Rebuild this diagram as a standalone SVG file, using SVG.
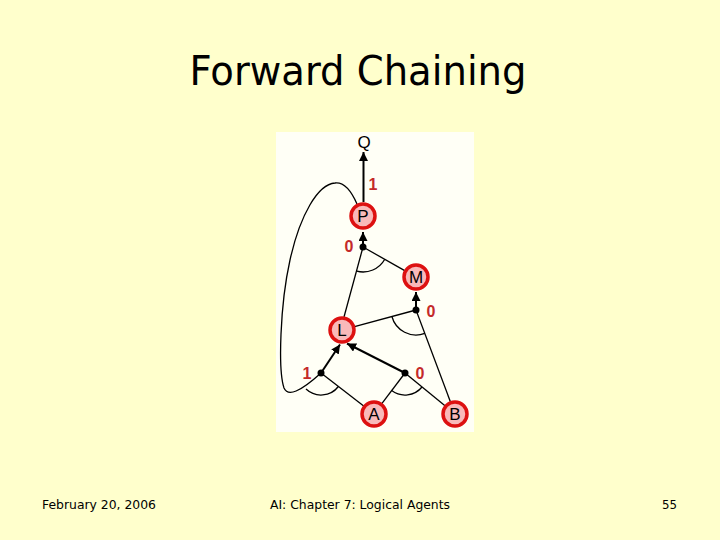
<svg xmlns="http://www.w3.org/2000/svg" width="720" height="540" viewBox="0 0 720 540">
<defs>
<style>
.node circle{fill:#F9B9B9;stroke:#DD1111;stroke-width:3.5}
.node text{font-family:"Liberation Sans",Arial,sans-serif;font-size:17px;fill:#000;text-anchor:middle}
.num{font-family:"Liberation Sans",Arial,sans-serif;font-size:16px;font-weight:bold;fill:#C42A2A;text-anchor:middle}
.edge{stroke:#000;stroke-width:1.3;fill:none}
.arw{stroke:#000;stroke-width:2;fill:none;marker-end:url(#ah)}
.dot{fill:#000}
.foot{font-family:Tahoma,"DejaVu Sans",sans-serif;font-size:13px;fill:#000}
</style>
<marker id="ah" viewBox="0 0 10 10" refX="10" refY="5" markerWidth="4.5" markerHeight="4.5" orient="auto" markerUnits="strokeWidth">
<path d="M0,0 L10,5 L0,10 z" fill="#000"/>
</marker>
</defs>
<rect width="720" height="540" fill="#FFFFCC"/>
<rect x="276" y="132" width="198" height="300" fill="#FFFFF6"/>
<text x="358" y="85" font-family="Tahoma,'DejaVu Sans',sans-serif" font-size="40" text-anchor="middle" textLength="337" lengthAdjust="spacingAndGlyphs" fill="#000">Forward Chaining</text>

<g id="connectors">
<line class="arw" x1="363.5" y1="202" x2="363.5" y2="152"/>
<line class="arw" x1="363" y1="247" x2="363" y2="232"/>
<line class="edge" x1="363" y1="247" x2="404.7" y2="270.6"/>
<line class="edge" x1="363" y1="247" x2="344" y2="317"/>
<path class="edge" d="M356.8,271.2 A25,25 0 0 0 384.8,259.3"/>
<line class="arw" x1="416" y1="310" x2="416" y2="292"/>
<line class="edge" x1="416" y1="310" x2="354.5" y2="326.6"/>
<line class="edge" x1="416" y1="310" x2="450.4" y2="401.8"/>
<path class="edge" d="M391.9,316.5 A25,25 0 0 0 424.8,333.4"/>
<line class="arw" x1="321" y1="373" x2="340" y2="344.5"/>
<line class="edge" x1="321" y1="373" x2="363.7" y2="406"/>
<path class="edge" d="M357,204 C350,188 343,182 335,183 C318,184 300,215 290,260 C280,305 278,370 284,388 C288,397 300,392 321,373"/>
<path class="edge" d="M306,389.1 A22,22 0 0 0 338.4,386.5"/>
<line class="arw" x1="405" y1="373" x2="347" y2="343.5"/>
<line class="edge" x1="405" y1="373" x2="381.8" y2="403.6"/>
<line class="edge" x1="405" y1="373" x2="445" y2="405.8"/>
<path class="edge" d="M391.7,390.6 A22,22 0 0 0 422,387"/>
<circle class="dot" cx="363" cy="247" r="3.5"/>
<circle class="dot" cx="416" cy="310" r="3.5"/>
<circle class="dot" cx="321" cy="373" r="3.5"/>
<circle class="dot" cx="405" cy="373" r="3.5"/>
</g>

<g id="Q" class="node"><text x="364" y="148">Q</text></g>
<g id="P" class="node"><circle cx="363" cy="216" r="12"/><text x="363" y="222">P</text></g>
<g id="M" class="node"><circle cx="416" cy="277" r="12"/><text x="416" y="283">M</text></g>
<g id="L" class="node"><circle cx="342" cy="330" r="12"/><text x="342" y="336">L</text></g>
<g id="A" class="node"><circle cx="374" cy="414" r="12"/><text x="374" y="420">A</text></g>
<g id="B" class="node"><circle cx="455" cy="414" r="12"/><text x="455" y="420">B</text></g>

<g id="labels">
<text class="num" x="373" y="190">1</text>
<text class="num" x="349" y="252">0</text>
<text class="num" x="431" y="317">0</text>
<text class="num" x="307" y="379">1</text>
<text class="num" x="420" y="379">0</text>
</g>

<text class="foot" x="42" y="509" textLength="114" lengthAdjust="spacingAndGlyphs">February 20, 2006</text>
<text class="foot" x="270" y="509" textLength="180" lengthAdjust="spacingAndGlyphs">AI: Chapter 7: Logical Agents</text>
<text class="foot" x="662" y="509" textLength="15" lengthAdjust="spacingAndGlyphs">55</text>
</svg>
